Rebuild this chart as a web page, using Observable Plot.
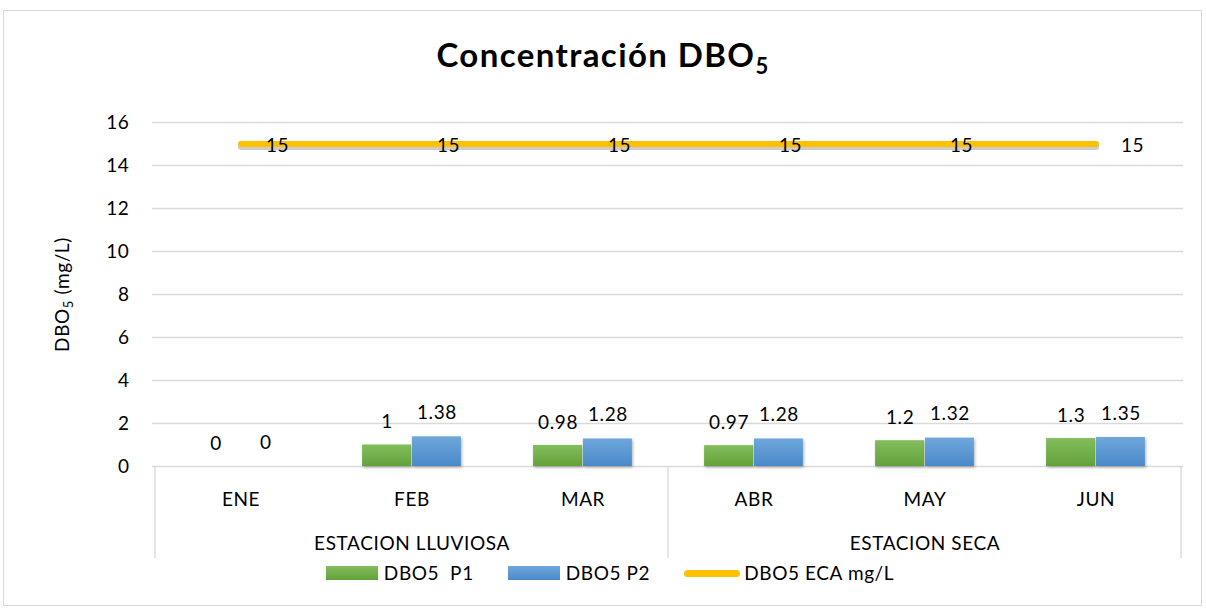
<!DOCTYPE html>
<html>
<head>
<meta charset="utf-8">
<script src="https://cdn.jsdelivr.net/npm/d3@7"></script>
<script src="https://cdn.jsdelivr.net/npm/@observablehq/plot@0.6"></script>
<style>
  body { margin: 0; background: #fff; font-family: Lato, "Open Sans", sans-serif; color: #000; }
  #chart { position: relative; width: 1206px; height: 608px; overflow: hidden; }
  #border { position: absolute; left: 3px; top: 10px; width: 1199px; height: 596px; border: 1px solid #d9d9d9; box-sizing: border-box; }
  #title { position: absolute; top: 34px; left: 0; width: 1206px; text-align: center; font-weight: 700; font-size: 33px; letter-spacing: 1.4px; line-height: 40px; }
  #title sub { font-size: 22px; vertical-align: -7px; line-height: 0; }
  #plot { position: absolute; top: 100px; left: 0; }
  #legend { position: absolute; top: 562px; left: 0; width: 1206px; display: flex; justify-content: center; align-items: center; font-size: 19px; letter-spacing: 0.6px; line-height: 22px; padding-left: 14px; box-sizing: border-box; }
  .item { display: flex; align-items: center; margin: 0 17px; }
  .sw { width: 52px; height: 14px; margin-right: 6px; }
  .ln { width: 56px; height: 7px; border-radius: 4px; background: #FFC000; margin-right: 4px; }
</style>
</head>
<body>
<div id="chart">
  <div id="border"></div>
  <div id="title">Concentración DBO<sub>5</sub></div>
  <div id="plot"></div>
  <div id="legend"></div>
</div>
<script>
// ---- data ----
const months = ["ENE", "FEB", "MAR", "ABR", "MAY", "JUN"];
const monthSeason = ["ESTACION LLUVIOSA", "ESTACION LLUVIOSA", "ESTACION LLUVIOSA", "ESTACION SECA", "ESTACION SECA", "ESTACION SECA"];
const p1 = [0, 1, 0.98, 0.97, 1.2, 1.3];
const p2 = [0, 1.38, 1.28, 1.28, 1.32, 1.35];
const eca = [15, 15, 15, 15, 15, 15];
const yTicks = [0, 2, 4, 6, 8, 10, 12, 14, 16];
const seriesNames = ["DBO5  P1", "DBO5 P2", "DBO5 ECA mg/L"];
const yLabel = "DBO5 (mg/L)";

// ---- build table ----
const data = months.map((m, i) => ({month: m, season: monthSeason[i], p1: p1[i], p2: p2[i], eca: eca[i]}));
const seasons = Array.from(d3.group(data, d => d.season), ([name, rows]) => ({
  name, mid: rows[Math.floor(rows.length / 2)].month, first: rows[0].month, last: rows[rows.length - 1].month
}));

const W = 1206, H = 458, ML = 152, MR = 23, MT = 22, MB = 92;
const bw = (W - ML - MR) / months.length;
const barW = bw * 0.29;

const plot = Plot.plot({
  width: W, height: H,
  marginLeft: ML, marginRight: MR, marginTop: MT, marginBottom: MB,
  style: {fontFamily: "Lato, 'Open Sans', sans-serif", fontSize: "19px", letterSpacing: "0.6px", color: "#000", background: "transparent"},
  x: {type: "band", domain: months, padding: 0, tickSize: 0, tickPadding: 26, label: null},
  y: {domain: [0, 16], ticks: yTicks, tickSize: 0, tickPadding: 23, label: null},
  marks: [
    Plot.ruleY(yTicks, {stroke: "#d9d9d9", strokeWidth: 1.3}),
    Plot.barY(data, {x: "month", y: "p1", fill: "url(#gGreen)", insetLeft: bw / 2 - barW, insetRight: bw / 2}),
    Plot.barY(data, {x: "month", y: "p2", fill: "url(#gBlue)", insetLeft: bw / 2, insetRight: bw / 2 - barW}),
    Plot.text(data, {x: "month", y: "p1", text: d => String(d.p1), dx: -barW / 2, dy: -23}),
    Plot.text(data, {x: "month", y: "p2", text: d => String(d.p2), dx: barW / 2, dy: -24}),
    Plot.lineY(data, {x: "month", y: "eca", stroke: "#000", strokeOpacity: 0.2, strokeWidth: 6, strokeLinecap: "round", dy: 3}),
    Plot.lineY(data, {x: "month", y: "eca", stroke: "#FFC000", strokeWidth: 6, strokeLinecap: "round"}),
    Plot.text(data, {x: "month", y: "eca", text: d => String(d.eca), textAnchor: "start", dx: 25, dy: 2}),
    Plot.text(seasons, {x: "mid", text: "name", frameAnchor: "bottom", dy: 83}),
    Plot.text([yLabel], {text: d => d, frameAnchor: "left", textAnchor: "middle", dx: -90, rotate: -90})
  ]
});

// gradients & shadows
const svg = d3.select(plot);
const defs = svg.insert("defs", ":first-child");
const gg = defs.append("linearGradient").attr("id", "gGreen").attr("x1", 0).attr("y1", 0).attr("x2", 0).attr("y2", 1);
gg.append("stop").attr("offset", "0%").attr("stop-color", "#82BE5C");
gg.append("stop").attr("offset", "100%").attr("stop-color", "#62A23A");
const gb = defs.append("linearGradient").attr("id", "gBlue").attr("x1", 0).attr("y1", 0).attr("x2", 0).attr("y2", 1);
gb.append("stop").attr("offset", "0%").attr("stop-color", "#6FA7DC");
gb.append("stop").attr("offset", "100%").attr("stop-color", "#4A89C8");
const f = defs.append("filter").attr("id", "shadow").attr("x", "-20%").attr("y", "-20%").attr("width", "140%").attr("height", "140%");
f.append("feDropShadow").attr("dx", 1).attr("dy", 1.5).attr("stdDeviation", 1.5).attr("flood-color", "#000").attr("flood-opacity", 0.3);
svg.selectAll("g[aria-label='bar']").attr("filter", "url(#shadow)");

// category axis separators (season boundaries) from the x scale
const xs = plot.scale("x"), ys = plot.scale("y");
const y0 = ys.apply(0);
const bounds = [xs.apply(seasons[0].first)];
seasons.forEach(s => bounds.push(xs.apply(s.last) + xs.bandwidth));
svg.append("g").selectAll("line").data(bounds).join("line")
  .attr("x1", d => d).attr("x2", d => d).attr("y1", y0).attr("y2", H)
  .attr("stroke", "#d9d9d9").attr("stroke-width", 1.3);

// subscript in the y label
svg.selectAll("text").filter(function() { return this.textContent === yLabel; })
  .each(function() {
    const t = d3.select(this);
    t.text(null);
    t.append("tspan").text("DBO");
    t.append("tspan").attr("font-size", 13).attr("dy", 4).text("5");
    t.append("tspan").attr("dy", -4).text(" (mg/L)");
  });

document.getElementById("plot").appendChild(plot);

// legend
const legend = d3.select("#legend");
const sw = [["sw", "linear-gradient(#82BE5C,#62A23A)"], ["sw", "linear-gradient(#6FA7DC,#4A89C8)"], ["ln", null]];
seriesNames.forEach((n, i) => {
  const it = legend.append("div").attr("class", "item");
  const s = it.append("div").attr("class", sw[i][0]);
  if (sw[i][1]) s.style("background", sw[i][1]);
  it.append("span").style("white-space", "pre").text(n);
});
</script>
</body>
</html>
